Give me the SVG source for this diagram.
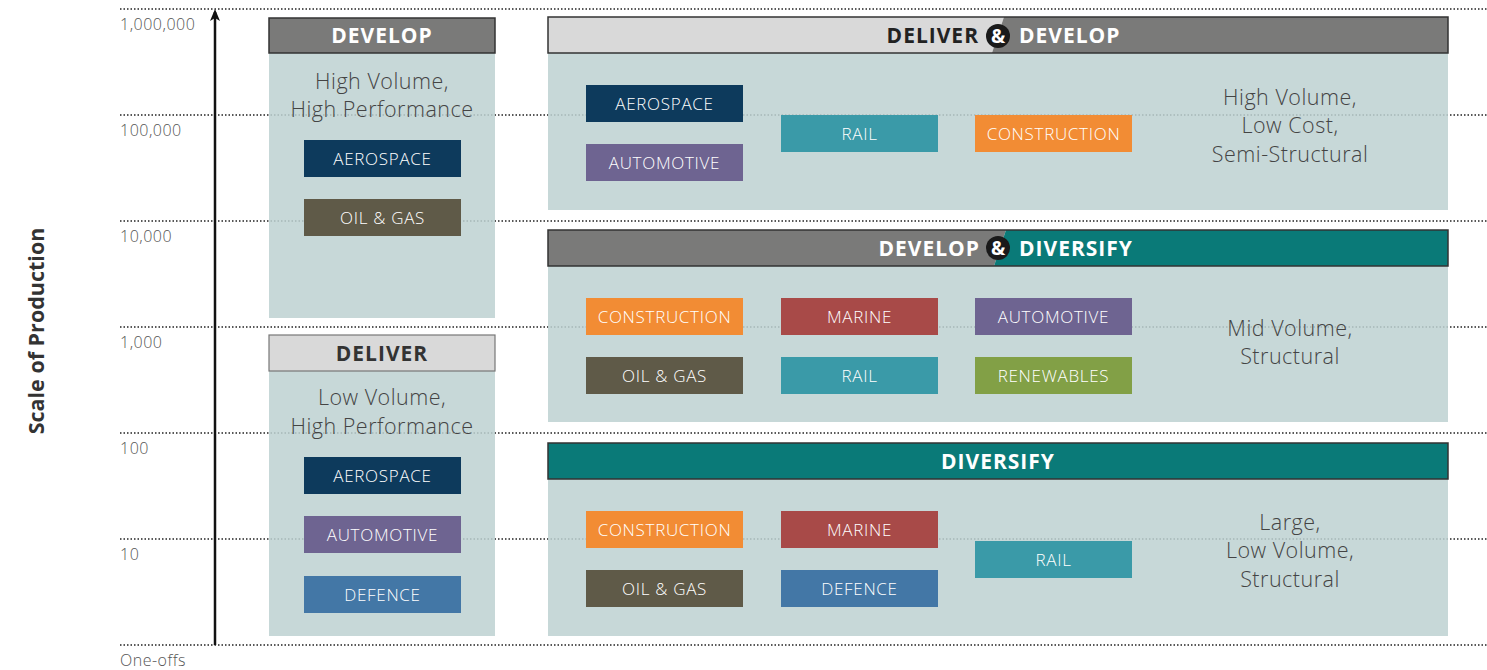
<svg xmlns="http://www.w3.org/2000/svg" width="1487" height="670" viewBox="0 0 1487 670">
<defs>
<style>
.grid{stroke:#222;stroke-width:1.5;stroke-dasharray:1.5 2;fill:none}
.axl{font-family:"Open Sans","Liberation Sans",sans-serif;font-size:16px;font-weight:300;fill:#555;letter-spacing:0.5px}
.body{fill:#bdd1d1;fill-opacity:0.85}
.hd{stroke:#333;stroke-width:1.5}
.ht{font-family:"Open Sans","Liberation Sans",sans-serif;font-size:21px;font-weight:bold;fill:#fff;text-anchor:middle;letter-spacing:1px}
.amp{font-family:"Open Sans","Liberation Sans",sans-serif;font-size:19px;font-weight:bold;fill:#fff;text-anchor:middle}
.desc{font-family:"Open Sans","Liberation Sans",sans-serif;font-size:21.5px;font-weight:300;fill:#444;text-anchor:middle;letter-spacing:0.5px}
.tag text{font-family:"Open Sans","Liberation Sans",sans-serif;font-size:17px;font-weight:300;fill:#fff;text-anchor:middle;letter-spacing:0.7px}
.aero{fill:#0d3a5c}.auto{fill:#6e6491}.rail{fill:#3a9aa8}.cons{fill:#f28c34}.mar{fill:#a84a48}.oil{fill:#5f5a48}.ren{fill:#82a046}.def{fill:#4377a6}
</style>
<marker id="ah" markerWidth="12" markerHeight="10" refX="9" refY="5" orient="auto" markerUnits="userSpaceOnUse" viewBox="0 0 12 10">
<path d="M0,0 L12,5 L0,10 L3,5 Z" fill="#111"/>
</marker>
</defs>
<rect width="1487" height="670" fill="#fff"/>
<g id="grid">
<line class="grid" x1="120" y1="9" x2="1487" y2="9"/>
<line class="grid" x1="120" y1="115" x2="1487" y2="115"/>
<line class="grid" x1="120" y1="221" x2="1487" y2="221"/>
<line class="grid" x1="120" y1="327" x2="1487" y2="327"/>
<line class="grid" x1="120" y1="433" x2="1487" y2="433"/>
<line class="grid" x1="120" y1="539" x2="1487" y2="539"/>
<line class="grid" x1="120" y1="645" x2="1487" y2="645"/>
</g>
<g id="axis-labels">
<text class="axl" x="120" y="30">1,000,000</text>
<text class="axl" x="120" y="136">100,000</text>
<text class="axl" x="120" y="242">10,000</text>
<text class="axl" x="120" y="348">1,000</text>
<text class="axl" x="120" y="454">100</text>
<text class="axl" x="120" y="560">10</text>
<text class="axl" x="120" y="666">One-offs</text>
<text x="44" y="331" transform="rotate(-90 44 331)" font-family="'Open Sans','Liberation Sans',sans-serif" font-size="21.5" font-weight="bold" fill="#333" text-anchor="middle">Scale of Production</text>
</g>
<g id="connectors">
<line x1="215" y1="645" x2="215" y2="12" stroke="#111" stroke-width="2.5" marker-end="url(#ah)"/>
</g>

<g id="develop">
<rect class="body" x="269" y="53" width="226" height="265"/>
<rect class="hd" x="269" y="18" width="226" height="35" fill="#7a7a79"/>
<text class="ht" x="382" y="43">DEVELOP</text>
<text class="desc" x="382" y="89">High Volume,</text>
<text class="desc" x="382" y="117">High Performance</text>
<g class="tag"><rect class="aero" x="304" y="140" width="157" height="37"/><text x="382.5" y="165">AEROSPACE</text></g>
<g class="tag"><rect class="oil" x="304" y="199" width="157" height="37"/><text x="382.5" y="224">OIL &amp; GAS</text></g>
</g>

<g id="deliver">
<rect class="body" x="269" y="371" width="226" height="265"/>
<rect x="269" y="335" width="226" height="36" fill="#d9d9d9" stroke="#777" stroke-width="1.2"/>
<text class="ht" x="382" y="361" style="fill:#333">DELIVER</text>
<text class="desc" x="382" y="405">Low Volume,</text>
<text class="desc" x="382" y="434">High Performance</text>
<g class="tag"><rect class="aero" x="304" y="457" width="157" height="37"/><text x="382.5" y="482">AEROSPACE</text></g>
<g class="tag"><rect class="auto" x="304" y="516" width="157" height="37"/><text x="382.5" y="541">AUTOMOTIVE</text></g>
<g class="tag"><rect class="def" x="304" y="576" width="157" height="37"/><text x="382.5" y="601">DEFENCE</text></g>
</g>

<g id="deliver-develop">
<rect class="body" x="548" y="53" width="900" height="157"/>
<polygon points="548,17 1004,17 992,53 548,53" fill="#d9d9d9"/>
<polygon points="1004,17 1448,17 1448,53 992,53" fill="#7a7a79"/>
<rect x="548" y="17" width="900" height="36" fill="none" stroke="#333" stroke-width="1.5"/>
<text class="ht" x="979" y="43" style="fill:#222;text-anchor:end">DELIVER</text>
<circle cx="998" cy="36" r="12" fill="#1a1a1a"/>
<text class="amp" x="998" y="43">&amp;</text>
<text class="ht" x="1019" y="43" style="text-anchor:start">DEVELOP</text>
<text class="desc" x="1290" y="105">High Volume,</text>
<text class="desc" x="1290" y="133">Low Cost,</text>
<text class="desc" x="1290" y="162">Semi-Structural</text>
<g class="tag"><rect class="aero" x="586" y="85" width="157" height="37"/><text x="664.5" y="110">AEROSPACE</text></g>
<g class="tag"><rect class="auto" x="586" y="144" width="157" height="37"/><text x="664.5" y="169">AUTOMOTIVE</text></g>
<g class="tag"><rect class="rail" x="781" y="115" width="157" height="37"/><text x="859.5" y="140">RAIL</text></g>
<g class="tag"><rect class="cons" x="975" y="115" width="157" height="37"/><text x="1053.5" y="140">CONSTRUCTION</text></g>
</g>

<g id="develop-diversify">
<rect class="body" x="548" y="266" width="900" height="156"/>
<polygon points="548,230 1006,230 994,266 548,266" fill="#7a7a79"/>
<polygon points="1006,230 1448,230 1448,266 994,266" fill="#0a7a78"/>
<rect x="548" y="230" width="900" height="36" fill="none" stroke="#333" stroke-width="1.5"/>
<text class="ht" x="980" y="256" style="text-anchor:end">DEVELOP</text>
<circle cx="998" cy="248" r="12" fill="#1a1a1a"/>
<text class="amp" x="998" y="255">&amp;</text>
<text class="ht" x="1019" y="256" style="text-anchor:start">DIVERSIFY</text>
<text class="desc" x="1290" y="336">Mid Volume,</text>
<text class="desc" x="1290" y="364">Structural</text>
<g class="tag"><rect class="cons" x="586" y="298" width="157" height="37"/><text x="664.5" y="323">CONSTRUCTION</text></g>
<g class="tag"><rect class="mar" x="781" y="298" width="157" height="37"/><text x="859.5" y="323">MARINE</text></g>
<g class="tag"><rect class="auto" x="975" y="298" width="157" height="37"/><text x="1053.5" y="323">AUTOMOTIVE</text></g>
<g class="tag"><rect class="oil" x="586" y="357" width="157" height="37"/><text x="664.5" y="382">OIL &amp; GAS</text></g>
<g class="tag"><rect class="rail" x="781" y="357" width="157" height="37"/><text x="859.5" y="382">RAIL</text></g>
<g class="tag"><rect class="ren" x="975" y="357" width="157" height="37"/><text x="1053.5" y="382">RENEWABLES</text></g>
</g>

<g id="diversify">
<rect class="body" x="548" y="479" width="900" height="157"/>
<rect class="hd" x="548" y="443" width="900" height="36" fill="#0a7a78"/>
<text class="ht" x="998" y="469">DIVERSIFY</text>
<text class="desc" x="1290" y="530">Large,</text>
<text class="desc" x="1290" y="558">Low Volume,</text>
<text class="desc" x="1290" y="587">Structural</text>
<g class="tag"><rect class="cons" x="586" y="511" width="157" height="37"/><text x="664.5" y="536">CONSTRUCTION</text></g>
<g class="tag"><rect class="mar" x="781" y="511" width="157" height="37"/><text x="859.5" y="536">MARINE</text></g>
<g class="tag"><rect class="rail" x="975" y="541" width="157" height="37"/><text x="1053.5" y="566">RAIL</text></g>
<g class="tag"><rect class="oil" x="586" y="570" width="157" height="37"/><text x="664.5" y="595">OIL &amp; GAS</text></g>
<g class="tag"><rect class="def" x="781" y="570" width="157" height="37"/><text x="859.5" y="595">DEFENCE</text></g>
</g>
</svg>
